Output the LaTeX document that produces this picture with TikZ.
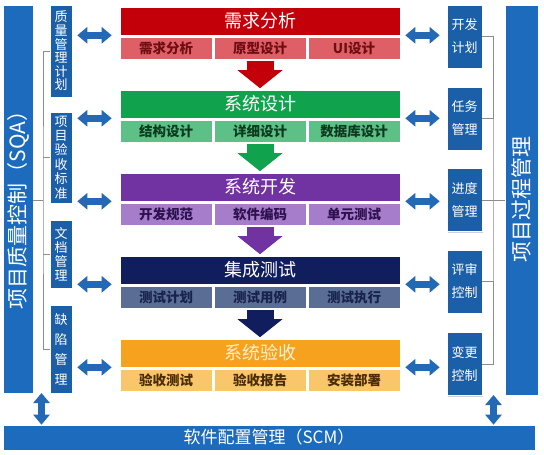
\documentclass[tikz,border=0pt]{standalone}
\usepackage{fontspec}
\setmainfont{Noto Sans CJK SC}
\usepackage{tikz}
\usetikzlibrary{arrows.meta,shadows}
\definecolor{qblue}{HTML}{1B5FA8}
\definecolor{tblue}{HTML}{1C6BBC}
\definecolor{ablue}{HTML}{2469B5}
\definecolor{redh}{HTML}{C3000A}
\definecolor{reds}{HTML}{DF5F66}
\definecolor{redt}{HTML}{6E0D12}
\definecolor{grnh}{HTML}{10A24C}
\definecolor{grns}{HTML}{5DC087}
\definecolor{grnt}{HTML}{0C3A1E}
\definecolor{purh}{HTML}{7132A2}
\definecolor{purs}{HTML}{A57DCA}
\definecolor{purt}{HTML}{2F1050}
\definecolor{navh}{HTML}{101E5E}
\definecolor{navs}{HTML}{5A6D95}
\definecolor{navt}{HTML}{17234D}
\definecolor{orah}{HTML}{F6A21E}
\definecolor{oras}{HTML}{F9C66C}
\definecolor{orat}{HTML}{4A2C02}
\definecolor{oralt}{HTML}{FFF1CF}
\definecolor{brkgray}{HTML}{8C8C8C}
\tikzset{
  shd/.style={drop shadow={shadow xshift=1.2pt, shadow yshift=-1.2pt, opacity=0.3, fill=black!60}},
  stagehd/.style={shd, draw=white, line width=0.6pt, minimum width=280pt, minimum height=28pt, inner sep=0pt, text=white, font=\fontsize{18}{18}\selectfont},
  stagesub/.style={shd, draw=white, line width=0.6pt, minimum width=92pt, minimum height=22pt, inner sep=0pt, font=\fontsize{13.5}{13.5}\selectfont\bfseries},
  qbox/.style={shd, draw=white, line width=0.6pt, fill=qblue, text=white, inner sep=0pt, minimum width=22pt, align=center},
  pbox/.style={shd, draw=white, line width=0.6pt, fill=qblue, text=white, inner sep=0pt, minimum width=35pt, minimum height=63pt, align=center, font=\fontsize{13}{23}\selectfont},
  sidebar/.style={shd, draw=white, line width=0.6pt, fill=tblue, inner sep=0pt},
  bigtxt/.style={text=white, inner sep=0pt, font=\fontsize{21}{21}\selectfont},
  dbl/.style={draw=ablue, line width=6.5pt, {Triangle[width=16pt,length=10pt]}-{Triangle[width=16pt,length=10pt]}},
  flow/.style={line width=27pt, -{Triangle[width=44pt,length=18pt]}, shorten <=2pt, shorten >=1.5pt},
  brk/.style={draw=brkgray, line width=0.9pt},
}
\begin{document}
\begin{tikzpicture}[x=1pt,y=-1pt]
  \useasboundingbox[fill=white] (0,0) rectangle (544,455);

  % stages
  \node[stagehd, fill=redh] (h1) at (260,21) {需求分析};
  \node[stagesub, fill=reds, text=redt] (c11) at (166,48) {需求分析};
  \node[stagesub, fill=reds, text=redt] (c12) at (260,48) {原型设计};
  \node[stagesub, fill=reds, text=redt] (c13) at (354,48) {UI设计};

  \node[stagehd, fill=grnh] (h2) at (260,104) {系统设计};
  \node[stagesub, fill=grns, text=grnt] (c21) at (166,131) {结构设计};
  \node[stagesub, fill=grns, text=grnt] (c22) at (260,131) {详细设计};
  \node[stagesub, fill=grns, text=grnt] (c23) at (354,131) {数据库设计};

  \node[stagehd, fill=purh] (h3) at (260,187) {系统开发};
  \node[stagesub, fill=purs, text=purt] (c31) at (166,214) {开发规范};
  \node[stagesub, fill=purs, text=purt] (c32) at (260,214) {软件编码};
  \node[stagesub, fill=purs, text=purt] (c33) at (354,214) {单元测试};

  \node[stagehd, fill=navh] (h4) at (260,270) {集成测试};
  \node[stagesub, fill=navs, text=navt] (c41) at (166,297) {测试计划};
  \node[stagesub, fill=navs, text=navt] (c42) at (260,297) {测试用例};
  \node[stagesub, fill=navs, text=navt] (c43) at (354,297) {测试执行};

  \node[stagehd, fill=orah, text=oralt] (h5) at (260,353) {系统验收};
  \node[stagesub, fill=oras, text=orat] (c51) at (166,380) {验收测试};
  \node[stagesub, fill=oras, text=orat] (c52) at (260,380) {验收报告};
  \node[stagesub, fill=oras, text=orat] (c53) at (354,380) {安装部署};

  \draw[flow, draw=redh] (c12.south) -- (h2.north);
  \draw[flow, draw=grnh] (c22.south) -- (h3.north);
  \draw[flow, draw=purh] (c32.south) -- (h4.north);
  \draw[flow, draw=navh] (c42.south) -- (h5.north);

  % quality side
  \node[sidebar, minimum width=30pt, minimum height=388pt] (sqa) at (18,199) {};
  \node[bigtxt, rotate=90] (sqatxt) at (18,205) {项目质量控制（SQA）};
  \node[qbox, minimum height=92pt, font=\fontsize{13}{13.6}\selectfont] (q1) at (61,51) {质\\量\\管\\理\\计\\划};
  \node[qbox, minimum height=91pt, font=\fontsize{13}{14.4}\selectfont] (q2) at (61,157.5) {项\\目\\验\\收\\标\\准};
  \node[qbox, minimum height=68pt, font=\fontsize{13}{14}\selectfont] (q3) at (61,254) {文\\档\\管\\理};
  \node[qbox, minimum height=88pt, font=\fontsize{13}{20}\selectfont] (q4) at (61,349) {缺\\陷\\管\\理};

  % process side
  \node[sidebar, minimum width=33pt, minimum height=390pt] (pm) at (521.5,200) {};
  \node[bigtxt, rotate=90] (pmtxt) at (521.5,199) {项目过程管理};
  \node[pbox] (p1) at (464.5,36.5) {开发\\计划};
  \node[pbox] (p2) at (464.5,118.5) {任务\\管理};
  \node[pbox] (p3) at (464.5,200) {进度\\管理};
  \node[pbox] (p4) at (464.5,281.5) {评审\\控制};
  \node[pbox] (p5) at (464.5,364) {变更\\控制};

  \node[sidebar, minimum width=532pt, minimum height=25pt, text=white, font=\fontsize{17}{17}\selectfont] (scm) at (269,437.5) {软件配置管理（SCM）};

  % brackets
  \coordinate (lb) at (43,200);
  \draw[brk] (q1.west) -| (lb) |- (q4.west);
  \draw[brk] (q2.west) -- (q2.west -| lb);
  \draw[brk] (q3.west) -- (q3.west -| lb);
  \draw[brk] (lb) -- (lb -| sqa.east);
  \coordinate (rb) at (493,200);
  \draw[brk] (p1.east) -| (rb) |- (p5.east);
  \draw[brk] (p2.east) -- (p2.east -| rb);
  \draw[brk] (p4.east) -- (p4.east -| rb);
  \draw[brk] (p3.east) -- (pm.west);

  % side arrows
  \draw[dbl, shorten <=5pt, shorten >=8pt] (h1.south west -| q1.east) -- (h1.south west);
  \draw[dbl, shorten <=5pt, shorten >=8pt] (h2.south west -| q2.east) -- (h2.south west);
  \draw[dbl, shorten <=5pt, shorten >=8pt] (h3.south west -| q2.east) -- (h3.south west);
  \draw[dbl, shorten <=5pt, shorten >=8pt] (h4.south west -| q3.east) -- (h4.south west);
  \draw[dbl, shorten <=5pt, shorten >=8pt] (h5.south west -| q4.east) -- (h5.south west);
  \draw[dbl, shorten <=5pt, shorten >=7pt] (h1.south east) -- (h1.south east -| p1.west);
  \draw[dbl, shorten <=5pt, shorten >=7pt] (h2.south east) -- (h2.south east -| p2.west);
  \draw[dbl, shorten <=5pt, shorten >=7pt] (h3.south east) -- (h3.south east -| p3.west);
  \draw[dbl, shorten <=5pt, shorten >=7pt] (h4.south east) -- (h4.south east -| p4.west);
  \draw[dbl, shorten <=5pt, shorten >=7pt] (h5.south east) -- (h5.south east -| p5.west);

  \coordinate (la) at (41.5,393);
  \coordinate (ra) at (493.5,395);
  \draw[dbl] (la) -- (la |- scm.north);
  \draw[dbl] (ra) -- (ra |- scm.north);
\end{tikzpicture}
\end{document}
